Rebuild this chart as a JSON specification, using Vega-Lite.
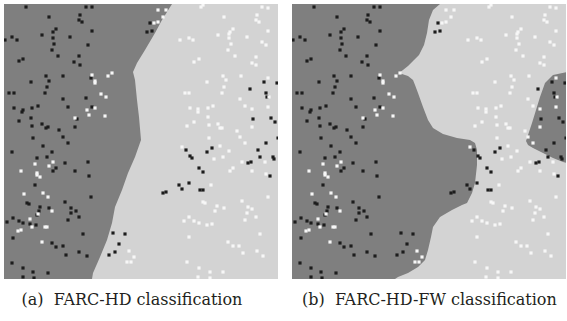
{
  "$schema": "https://vega.github.io/schema/vega-lite/v6.json",
  "padding": {"left": 4, "top": 4, "right": 0, "bottom": 0},
  "background": "white",
  "config": {"view": {"stroke": null, "fill": "#d3d3d3"}, "concat": {"spacing": 14}, "title": {"font": "DejaVu Serif", "fontSize": 16, "fontWeight": "normal", "color": "#231f20"}},
  "datasets": {
    "pts": [
      {"x":22,"y":272,"c":"b"},{"x":82,"y":272,"c":"b"},{"x":88,"y":272,"c":"b"},{"x":45,"y":262,"c":"b"},{"x":76,"y":264,"c":"b"},{"x":75,"y":259,"c":"b"},{"x":78,"y":257,"c":"b"},{"x":88,"y":248,"c":"b"},{"x":52,"y":250,"c":"b"},{"x":49,"y":247,"c":"b"},{"x":38,"y":244,"c":"b"},{"x":8,"y":242,"c":"b"},{"x":13,"y":239,"c":"b"},{"x":1,"y":239,"c":"b"},{"x":66,"y":242,"c":"b"},{"x":49,"y":241,"c":"b"},{"x":50,"y":235,"c":"b"},{"x":84,"y":234,"c":"b"},{"x":48,"y":229,"c":"b"},{"x":54,"y":223,"c":"b"},{"x":75,"y":223,"c":"b"},{"x":19,"y":220,"c":"b"},{"x":15,"y":218,"c":"b"},{"x":70,"y":217,"c":"b"},{"x":76,"y":214,"c":"b"},{"x":42,"y":203,"c":"b"},{"x":59,"y":203,"c":"b"},{"x":45,"y":198,"c":"b"},{"x":87,"y":201,"c":"b"},{"x":27,"y":197,"c":"b"},{"x":43,"y":192,"c":"b"},{"x":5,"y":186,"c":"b"},{"x":10,"y":186,"c":"b"},{"x":41,"y":186,"c":"b"},{"x":59,"y":180,"c":"b"},{"x":82,"y":181,"c":"b"},{"x":10,"y":171,"c":"b"},{"x":19,"y":169,"c":"b"},{"x":18,"y":167,"c":"b"},{"x":28,"y":171,"c":"b"},{"x":34,"y":173,"c":"b"},{"x":64,"y":172,"c":"b"},{"x":88,"y":172,"c":"b"},{"x":27,"y":161,"c":"b"},{"x":15,"y":158,"c":"b"},{"x":73,"y":160,"c":"b"},{"x":28,"y":153,"c":"b"},{"x":38,"y":155,"c":"b"},{"x":44,"y":152,"c":"b"},{"x":42,"y":151,"c":"b"},{"x":55,"y":149,"c":"b"},{"x":71,"y":152,"c":"b"},{"x":29,"y":141,"c":"b"},{"x":59,"y":142,"c":"b"},{"x":146,"y":256,"c":"b"},{"x":143,"y":247,"c":"b"},{"x":148,"y":248,"c":"b"},
      {"x":39,"y":133,"c":"b"},{"x":64,"y":136,"c":"b"},{"x":8,"y":127,"c":"b"},{"x":48,"y":127,"c":"b"},{"x":33,"y":121,"c":"b"},{"x":43,"y":122,"c":"b"},{"x":61,"y":116,"c":"b"},{"x":84,"y":117,"c":"b"},{"x":52,"y":111,"c":"b"},{"x":49,"y":108,"c":"b"},{"x":71,"y":108,"c":"b"},{"x":85,"y":103,"c":"b"},{"x":31,"y":94,"c":"b"},{"x":87,"y":82,"c":"b"},{"x":23,"y":76,"c":"b"},{"x":25,"y":75,"c":"b"},{"x":61,"y":77,"c":"b"},{"x":36,"y":72,"c":"b"},{"x":45,"y":71,"c":"b"},{"x":67,"y":71,"c":"b"},{"x":35,"y":68,"c":"b"},{"x":72,"y":68,"c":"b"},{"x":67,"y":66,"c":"b"},{"x":33,"y":64,"c":"b"},{"x":75,"y":62,"c":"b"},{"x":9,"y":61,"c":"b"},{"x":15,"y":58,"c":"b"},{"x":3,"y":57,"c":"b"},{"x":19,"y":56,"c":"b"},{"x":26,"y":55,"c":"b"},{"x":64,"y":59,"c":"b"},{"x":32,"y":54,"c":"b"},{"x":79,"y":45,"c":"b"},{"x":9,"y":41,"c":"b"},{"x":48,"y":36,"c":"b"},{"x":52,"y":32,"c":"b"},{"x":59,"y":33,"c":"b"},{"x":75,"y":27,"c":"b"},{"x":62,"y":24,"c":"b"},{"x":83,"y":23,"c":"b"},{"x":8,"y":16,"c":"b"},{"x":19,"y":11,"c":"b"},{"x":29,"y":7,"c":"b"},{"x":44,"y":6,"c":"b"},{"x":19,"y":2,"c":"b"},{"x":30,"y":1,"c":"b"},{"x":109,"y":46,"c":"b"},{"x":121,"y":45,"c":"b"},{"x":115,"y":35,"c":"b"},{"x":111,"y":27,"c":"b"},{"x":105,"y":24,"c":"b"},{"x":159,"y":86,"c":"b"},{"x":162,"y":87,"c":"b"},{"x":175,"y":94,"c":"b"},{"x":178,"y":90,"c":"b"},{"x":182,"y":129,"c":"b"},{"x":186,"y":123,"c":"b"},{"x":185,"y":96,"c":"b"},
      {"x":260,"y":197,"c":"b"},{"x":273,"y":196,"c":"b"},{"x":246,"y":190,"c":"b"},{"x":262,"y":186,"c":"b"},{"x":263,"y":182,"c":"b"},{"x":249,"y":160,"c":"b"},{"x":267,"y":161,"c":"b"},{"x":271,"y":157,"c":"b"},{"x":274,"y":141,"c":"b"},
      {"x":188,"y":121,"c":"b"},{"x":203,"y":127,"c":"b"},{"x":208,"y":131,"c":"b"},{"x":195,"y":111,"c":"b"},{"x":199,"y":107,"c":"b"},{"x":196,"y":89,"c":"b"},{"x":199,"y":89,"c":"b"},{"x":262,"y":136,"c":"b"},{"x":254,"y":129,"c":"b"},{"x":256,"y":122,"c":"b"},{"x":244,"y":116,"c":"b"},{"x":247,"y":117,"c":"b"},{"x":269,"y":122,"c":"b"},{"x":270,"y":120,"c":"b"},{"x":266,"y":103,"c":"b"},
      {"x":154,"y":269,"c":"w"},{"x":162,"y":269,"c":"w"},{"x":159,"y":262,"c":"w"},{"x":154,"y":257,"c":"w"},{"x":150,"y":256,"c":"w"},{"x":176,"y":239,"c":"w"},{"x":88,"y":204,"c":"w"},{"x":91,"y":198,"c":"w"},{"x":91,"y":196,"c":"w"},{"x":104,"y":203,"c":"w"},{"x":108,"y":206,"c":"w"},{"x":97,"y":185,"c":"w"},{"x":102,"y":182,"c":"w"},{"x":83,"y":169,"c":"w"},{"x":91,"y":171,"c":"w"},{"x":85,"y":164,"c":"w"},{"x":101,"y":163,"c":"w"},{"x":71,"y":161,"c":"w"},{"x":181,"y":186,"c":"w"},{"x":183,"y":153,"c":"w"},
      {"x":31,"y":115,"c":"w"},{"x":45,"y":113,"c":"w"},{"x":49,"y":117,"c":"w"},{"x":17,"y":108,"c":"w"},{"x":33,"y":106,"c":"w"},{"x":33,"y":104,"c":"w"},{"x":36,"y":102,"c":"w"},{"x":20,"y":85,"c":"w"},{"x":39,"y":86,"c":"w"},{"x":44,"y":82,"c":"w"},{"x":48,"y":68,"c":"w"},{"x":26,"y":60,"c":"w"},{"x":34,"y":65,"c":"w"},{"x":28,"y":52,"c":"w"},{"x":41,"y":52,"c":"w"},{"x":43,"y":52,"c":"w"},{"x":17,"y":49,"c":"w"},{"x":14,"y":48,"c":"w"},{"x":38,"y":37,"c":"w"},{"x":125,"y":28,"c":"w"},{"x":130,"y":22,"c":"w"},{"x":123,"y":17,"c":"w"},{"x":127,"y":17,"c":"w"},{"x":178,"y":132,"c":"w"},{"x":180,"y":58,"c":"w"},{"x":185,"y":62,"c":"w"},{"x":185,"y":42,"c":"w"},{"x":183,"y":17,"c":"w"},
      {"x":197,"y":272,"c":"w"},{"x":199,"y":274,"c":"w"},{"x":220,"y":262,"c":"w"},{"x":258,"y":272,"c":"w"},{"x":264,"y":271,"c":"w"},{"x":253,"y":264,"c":"w"},{"x":252,"y":259,"c":"w"},{"x":255,"y":257,"c":"w"},{"x":264,"y":248,"c":"w"},{"x":229,"y":250,"c":"w"},{"x":226,"y":247,"c":"w"},{"x":225,"y":245,"c":"w"},{"x":214,"y":244,"c":"w"},{"x":185,"y":241,"c":"w"},{"x":189,"y":239,"c":"w"},{"x":225,"y":241,"c":"w"},{"x":227,"y":235,"c":"w"},{"x":224,"y":229,"c":"w"},{"x":243,"y":242,"c":"w"},{"x":258,"y":237,"c":"w"},{"x":262,"y":234,"c":"w"},{"x":231,"y":223,"c":"w"},{"x":190,"y":217,"c":"w"},{"x":195,"y":220,"c":"w"},{"x":248,"y":216,"c":"w"},{"x":252,"y":222,"c":"w"},{"x":252,"y":214,"c":"w"},{"x":219,"y":203,"c":"w"},{"x":222,"y":199,"c":"w"},{"x":237,"y":203,"c":"w"},{"x":203,"y":197,"c":"w"},{"x":264,"y":201,"c":"w"},{"x":220,"y":192,"c":"w"},{"x":185,"y":186,"c":"w"},{"x":218,"y":186,"c":"w"},{"x":236,"y":180,"c":"w"},{"x":265,"y":182,"c":"w"},{"x":241,"y":173,"c":"w"},{"x":186,"y":171,"c":"w"},{"x":194,"y":170,"c":"w"},{"x":194,"y":167,"c":"w"},{"x":204,"y":171,"c":"w"},{"x":209,"y":173,"c":"w"},{"x":204,"y":162,"c":"w"},{"x":248,"y":170,"c":"w"},{"x":264,"y":172,"c":"w"},{"x":190,"y":157,"c":"w"},{"x":205,"y":154,"c":"w"},{"x":214,"y":155,"c":"w"},{"x":218,"y":151,"c":"w"},{"x":216,"y":151,"c":"w"},{"x":233,"y":148,"c":"w"},{"x":248,"y":152,"c":"w"},{"x":205,"y":141,"c":"w"},{"x":236,"y":142,"c":"w"},
      {"x":216,"y":133,"c":"w"},{"x":225,"y":128,"c":"w"},{"x":241,"y":136,"c":"w"},{"x":210,"y":120,"c":"w"},{"x":219,"y":122,"c":"w"},{"x":238,"y":117,"c":"w"},{"x":261,"y":117,"c":"w"},{"x":229,"y":111,"c":"w"},{"x":226,"y":108,"c":"w"},{"x":248,"y":108,"c":"w"},{"x":262,"y":105,"c":"w"},{"x":207,"y":94,"c":"w"},{"x":264,"y":82,"c":"w"},{"x":199,"y":77,"c":"w"},{"x":201,"y":76,"c":"w"},{"x":213,"y":73,"c":"w"},{"x":211,"y":68,"c":"w"},{"x":220,"y":71,"c":"w"},{"x":238,"y":78,"c":"w"},{"x":244,"y":72,"c":"w"},{"x":248,"y":70,"c":"w"},{"x":243,"y":66,"c":"w"},{"x":252,"y":62,"c":"w"},{"x":241,"y":59,"c":"w"},{"x":190,"y":58,"c":"w"},{"x":195,"y":56,"c":"w"},{"x":203,"y":54,"c":"w"},{"x":208,"y":55,"c":"w"},{"x":256,"y":45,"c":"w"},{"x":224,"y":37,"c":"w"},{"x":229,"y":33,"c":"w"},{"x":235,"y":33,"c":"w"},{"x":253,"y":28,"c":"w"},{"x":239,"y":26,"c":"w"},{"x":259,"y":23,"c":"w"},{"x":195,"y":11,"c":"w"},{"x":206,"y":7,"c":"w"},{"x":219,"y":7,"c":"w"},{"x":194,"y":2,"c":"w"},{"x":206,"y":1,"c":"w"}
    ],
    "ba": [
      {"y":0,"x":88},{"y":6,"x":89},{"y":22,"x":96},{"y":39,"x":103},{"y":56,"x":108},{"y":72,"x":111},{"y":89,"x":118},{"y":106,"x":124},{"y":122,"x":131},{"y":139,"x":137},{"y":162,"x":135},{"y":179,"x":133},{"y":199,"x":131},{"y":207,"x":129},{"y":216,"x":133},{"y":229,"x":141},{"y":246,"x":151},{"y":259,"x":158},{"y":275,"x":168}
    ],
    "bb": [
      {"y":0,"x":103},{"y":2,"x":106},{"y":6,"x":116},{"y":12,"x":126},{"y":19,"x":133},{"y":29,"x":136},{"y":42,"x":139},{"y":52,"x":141},{"y":62,"x":148},{"y":69,"x":160},{"y":74,"x":170},{"y":76,"x":175},{"y":86,"x":180},{"y":96,"x":183},{"y":114,"x":185},{"y":129,"x":185},{"y":136,"x":183},{"y":139,"x":178},{"y":141,"x":165},{"y":145,"x":151},{"y":151,"x":141},{"y":159,"x":136},{"y":172,"x":131},{"y":186,"x":126},{"y":194,"x":123},{"y":199,"x":121},{"y":203,"x":116},{"y":206,"x":107},{"y":209,"x":111},{"y":213,"x":116},{"y":219,"x":122},{"y":224,"x":127},{"y":234,"x":132},{"y":246,"x":135},{"y":259,"x":137},{"y":269,"x":141},{"y":275,"x":148}
    ],
    "blob": [
      {"y":116,"x":275},{"y":117,"x":271},{"y":121,"x":261},{"y":126,"x":251},{"y":131,"x":241},{"y":134,"x":236},{"y":138,"x":234},{"y":144,"x":236},{"y":156,"x":240},{"y":169,"x":244},{"y":182,"x":248},{"y":196,"x":253},{"y":204,"x":261},{"y":207,"x":275}
    ]
  },
  "hconcat": [
    {
      "width": 274, "height": 275,
      "title": {"text": "(a)\u00a0\u00a0FARC-HD classification", "orient": "bottom", "anchor": "middle", "dx": -9, "offset": 13},
      "layer": [
        {"data": {"name": "ba"}, "mark": {"type": "area", "orient": "horizontal", "color": "#7f7f7f", "clip": true},
         "encoding": {"y": {"field": "y", "type": "quantitative", "scale": {"domain": [0, 275], "nice": false, "zero": false}, "axis": null},
                      "x": {"field": "x", "type": "quantitative", "scale": {"domain": [0, 274], "nice": false, "zero": false}, "axis": null},
                      "x2": {"datum": 0}}},
        {"data": {"name": "pts"}, "mark": {"type": "square", "size": 10, "opacity": 1, "clip": true},
         "encoding": {"x": {"field": "x", "type": "quantitative"}, "y": {"field": "y", "type": "quantitative"},
                      "color": {"field": "c", "type": "nominal", "scale": {"domain": ["b", "w"], "range": ["#1c1c1c", "#f7f7f7"]}, "legend": null}}}
      ]
    },
    {
      "width": 274, "height": 275,
      "title": {"text": "(b)\u00a0\u00a0FARC-HD-FW classification", "orient": "bottom", "anchor": "start", "dx": 10, "offset": 13},
      "layer": [
        {"data": {"name": "bb"}, "mark": {"type": "area", "orient": "horizontal", "color": "#7f7f7f", "clip": true},
         "encoding": {"y": {"field": "y", "type": "quantitative", "scale": {"domain": [0, 275], "nice": false, "zero": false}, "axis": null},
                      "x": {"field": "x", "type": "quantitative", "scale": {"domain": [0, 274], "nice": false, "zero": false}, "axis": null},
                      "x2": {"datum": 0}}},
        {"data": {"name": "blob"}, "mark": {"type": "area", "orient": "horizontal", "color": "#7f7f7f", "clip": true},
         "encoding": {"y": {"field": "y", "type": "quantitative"}, "x": {"field": "x", "type": "quantitative"}, "x2": {"datum": 275}}},
        {"data": {"name": "pts"}, "mark": {"type": "square", "size": 10, "opacity": 1, "clip": true},
         "encoding": {"x": {"field": "x", "type": "quantitative"}, "y": {"field": "y", "type": "quantitative"},
                      "color": {"field": "c", "type": "nominal", "scale": {"domain": ["b", "w"], "range": ["#1c1c1c", "#f7f7f7"]}, "legend": null}}}
      ]
    }
  ]
}
